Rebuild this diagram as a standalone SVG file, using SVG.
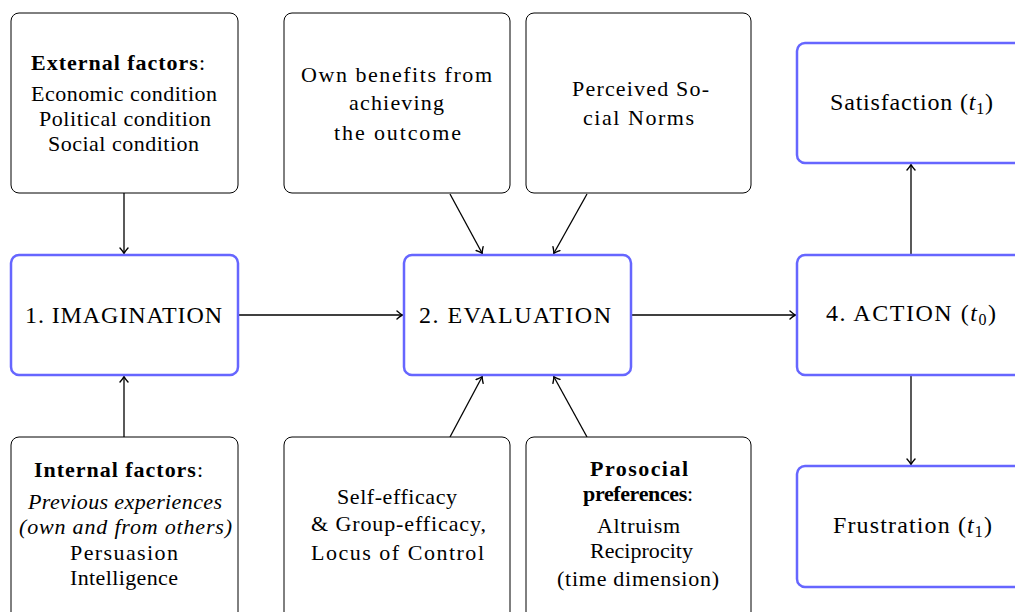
<svg xmlns="http://www.w3.org/2000/svg" width="1015" height="612" viewBox="0 0 1015 612">
<style>
.box{fill:#fff;stroke:#000;stroke-width:1}
.main{fill:#fff;stroke:#6666ff;stroke-width:2.5}
text{font-family:"Liberation Serif","DejaVu Serif",serif;font-size:22px;fill:#000;text-anchor:middle}
.big{font-size:24px}
.b{font-weight:bold}
.i{font-style:italic}
.sub{font-size:16px}
.conn{stroke:#000;stroke-width:1.3;fill:none;marker-end:url(#arr)}
</style>
<defs>
<marker id="arr" viewBox="-6 -5 8 10" markerWidth="8" markerHeight="10" refX="0" refY="0" orient="auto" markerUnits="userSpaceOnUse">
<path d="M-5,-4 Q-1,-0.5 0.5,0 Q-1,0.5 -5,4" fill="none" stroke="#000" stroke-width="1.4" stroke-linecap="round"/>
</marker>
</defs>
<g id="connectors">
<line class="conn" x1="124" y1="193" x2="124" y2="253"/>
<line class="conn" x1="124" y1="437" x2="124" y2="377"/>
<line class="conn" x1="238" y1="315" x2="402" y2="315"/>
<line class="conn" x1="450" y1="194" x2="482" y2="253"/>
<line class="conn" x1="587" y1="194" x2="554" y2="253"/>
<line class="conn" x1="450" y1="437" x2="482" y2="377"/>
<line class="conn" x1="587" y1="437" x2="554" y2="377"/>
<line class="conn" x1="631" y1="315" x2="795" y2="315"/>
<line class="conn" x1="911" y1="255" x2="911" y2="165"/>
<line class="conn" x1="911" y1="375" x2="911" y2="464"/>
</g>
<g id="external">
<rect class="box" x="11" y="13" width="227" height="180" rx="8"/>
<text x="118" y="70" textLength="174" lengthAdjust="spacing"><tspan class="b">External factors</tspan>:</text>
<text x="124" y="101" textLength="186" lengthAdjust="spacing">Economic condition</text>
<text x="125" y="126" textLength="172" lengthAdjust="spacing">Political condition</text>
<text x="123.5" y="151" textLength="151" lengthAdjust="spacing">Social condition</text>
</g>
<g id="benefits">
<rect class="box" x="284" y="13" width="226" height="180" rx="8"/>
<text x="396.5" y="82" textLength="191" lengthAdjust="spacing">Own benefits from</text>
<text x="396.5" y="110" textLength="95" lengthAdjust="spacing">achieving</text>
<text x="397.5" y="140" textLength="127" lengthAdjust="spacing">the outcome</text>
</g>
<g id="norms">
<rect class="box" x="526" y="13" width="225" height="180" rx="8"/>
<text x="640.5" y="96" textLength="137" lengthAdjust="spacing">Perceived So-</text>
<text x="638.5" y="125" textLength="111" lengthAdjust="spacing">cial Norms</text>
</g>
<g id="satisfaction">
<rect class="main" x="797" y="43" width="240" height="120" rx="8"/>
<text class="big" x="911.5" y="110" textLength="163" lengthAdjust="spacing">Satisfaction (<tspan class="i">t</tspan><tspan class="sub" dy="4">1</tspan><tspan dy="-4">)</tspan></text>
</g>
<g id="imagination">
<rect class="main" x="11" y="255" width="227" height="120" rx="8"/>
<text class="big" x="123.5" y="323" textLength="197" lengthAdjust="spacing">1.  IMAGINATION</text>
</g>
<g id="evaluation">
<rect class="main" x="404" y="255" width="227" height="120" rx="8"/>
<text class="big" x="515" y="323" textLength="192" lengthAdjust="spacing">2.  EVALUATION</text>
</g>
<g id="action">
<rect class="main" x="797" y="255" width="240" height="120" rx="8"/>
<text class="big" x="911" y="321" textLength="170" lengthAdjust="spacing">4.  ACTION (<tspan class="i">t</tspan><tspan class="sub" dy="4">0</tspan><tspan dy="-4">)</tspan></text>
</g>
<g id="frustration">
<rect class="main" x="797" y="466" width="240" height="121" rx="8"/>
<text class="big" x="912.5" y="533" textLength="159" lengthAdjust="spacing">Frustration (<tspan class="i">t</tspan><tspan class="sub" dy="4">1</tspan><tspan dy="-4">)</tspan></text>
</g>
<g id="internal">
<rect class="box" x="11" y="437" width="227" height="190" rx="8"/>
<text x="118.5" y="477" textLength="169" lengthAdjust="spacing"><tspan class="b">Internal factors</tspan>:</text>
<text x="125" y="509" class="i" textLength="194" lengthAdjust="spacing">Previous experiences</text>
<text x="125.5" y="534" class="i" textLength="213" lengthAdjust="spacing">(own and from others)</text>
<text x="124" y="560" textLength="108" lengthAdjust="spacing">Persuasion</text>
<text x="124" y="585" textLength="108" lengthAdjust="spacing">Intelligence</text>
</g>
<g id="efficacy">
<rect class="box" x="284" y="437" width="226" height="190" rx="8"/>
<text x="397" y="504" textLength="120" lengthAdjust="spacing">Self-efficacy</text>
<text x="398.5" y="531" textLength="175" lengthAdjust="spacing">&amp; Group-efficacy,</text>
<text x="397.5" y="560" textLength="173" lengthAdjust="spacing">Locus of Control</text>
</g>
<g id="prosocial">
<rect class="box" x="526" y="437" width="225" height="190" rx="8"/>
<text x="639" y="476" class="b" textLength="98" lengthAdjust="spacing">Prosocial</text>
<text x="638" y="501" textLength="110" lengthAdjust="spacing"><tspan class="b">preferences</tspan>:</text>
<text x="638.5" y="533" textLength="83" lengthAdjust="spacing">Altruism</text>
<text x="641.5" y="558" textLength="103" lengthAdjust="spacing">Reciprocity</text>
<text x="638" y="586" textLength="162" lengthAdjust="spacing">(time dimension)</text>
</g>
</svg>
